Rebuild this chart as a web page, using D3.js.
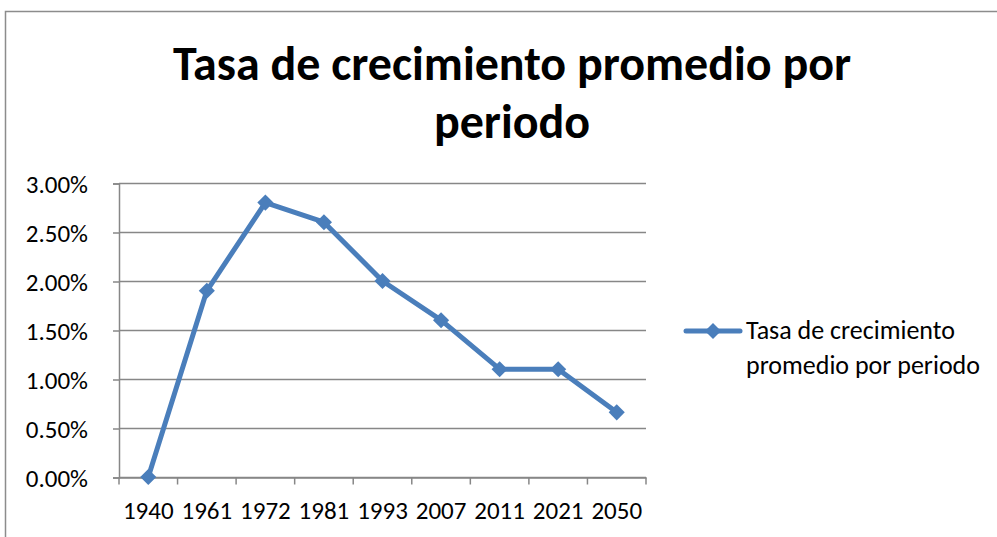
<!DOCTYPE html>
<html>
<head>
<meta charset="utf-8">
<script src="https://d3js.org/d3.v7.min.js"></script>
<style>
  body { margin: 0; background: #fff; }
  svg text { font-family: Carlito, Lato, "Open Sans", sans-serif; fill: #000; }
</style>
</head>
<body>
<svg id="chart" width="997" height="537"></svg>
<script>
// data
var years = ["1940", "1961", "1972", "1981", "1993", "2007", "2011", "2021", "2050"];
var rates = [0.0, 0.019, 0.028, 0.026, 0.020, 0.016, 0.011, 0.011, 0.0066];
var yTicks = [0, 0.005, 0.01, 0.015, 0.02, 0.025, 0.03];
var seriesName = ["Tasa de crecimiento", "promedio por periodo"];
var titleLines = ["Tasa de crecimiento promedio por", "periodo"];

var svg = d3.select("#chart");
var blue = "#4a7ebb", grid = "#878787";

// outer chart frame
svg.append("rect")
    .attr("x", 5.5).attr("y", 11.5)
    .attr("width", 1100).attr("height", 600)
    .attr("fill", "none").attr("stroke", "#8c8c8c").attr("stroke-width", 1.5);

// title
svg.append("text")
    .attr("text-anchor", "middle")
    .style("font-weight", "bold").style("font-size", "48px")
    .selectAll("tspan").data(titleLines).enter().append("tspan")
    .attr("x", 512)
    .attr("y", function (d, i) { return 80 + i * 58; })
    .text(function (d) { return d; });

var plotL = 119, plotR = 646, plotT = 183, plotB = 477;

var x = d3.scaleBand().domain(years).range([plotL, plotR]);
var y = d3.scaleLinear().domain([0, 0.03]).range([plotB, plotT]);

// gridlines
svg.append("g").selectAll("line").data(yTicks).enter().append("line")
    .attr("x1", plotL).attr("x2", plotR)
    .attr("y1", function (d) { return Math.round(y(d)) + 0.5; })
    .attr("y2", function (d) { return Math.round(y(d)) + 0.5; })
    .attr("stroke", grid).attr("stroke-width", 1.5);

// y axis
var yAxis = svg.append("g")
    .attr("transform", "translate(" + plotL + ",0.5)")
    .call(d3.axisLeft(y).tickValues(yTicks).tickFormat(d3.format(".2%")).tickSize(6).tickPadding(25));
yAxis.select(".domain").attr("stroke", grid).attr("stroke-width", 1.5);
yAxis.selectAll(".tick line").attr("stroke", grid).attr("stroke-width", 1.5);
yAxis.selectAll("text").style("font-size", "25px").attr("dy", "0.35em");

// x axis
var xAxis = svg.append("g")
    .attr("transform", "translate(0," + (plotB + 0.5) + ")")
    .call(d3.axisBottom(x).tickSize(0).tickPadding(24));
xAxis.select(".domain").attr("stroke", grid).attr("stroke-width", 1.5);
xAxis.selectAll("text").style("font-size", "25px");
xAxis.selectAll(".tick text").attr("dy", "0.71em");
var edges = years.map(function (d) { return x(d); }).concat([plotR]);
xAxis.selectAll(".edge").data(edges).enter().append("line")
    .attr("x1", function (d) { return d; }).attr("x2", function (d) { return d; })
    .attr("y1", 0).attr("y2", 7)
    .attr("stroke", grid).attr("stroke-width", 1.5);

// series line
var pts = years.map(function (d, i) { return [x(d) + x.bandwidth() / 2, y(rates[i])]; });
svg.append("path")
    .attr("d", d3.line()(pts))
    .attr("fill", "none").attr("stroke", blue).attr("stroke-width", 5)
    .attr("stroke-linejoin", "round");

var diamond = d3.symbol().type(d3.symbolSquare).size(130);
svg.append("g").selectAll("path").data(pts).enter().append("path")
    .attr("d", diamond)
    .attr("transform", function (d) { return "translate(" + d[0] + "," + d[1] + ") rotate(45)"; })
    .attr("fill", blue);

// legend
var lg = svg.append("g").attr("transform", "translate(686,331)");
lg.append("line").attr("x1", 0).attr("x2", 54).attr("y1", 0).attr("y2", 0)
    .attr("stroke", blue).attr("stroke-width", 5).attr("stroke-linecap", "round");
lg.append("path").attr("d", diamond).attr("transform", "translate(27,0) rotate(45)").attr("fill", blue);
lg.append("text").style("font-size", "26px")
    .selectAll("tspan").data(seriesName).enter().append("tspan")
    .attr("x", 60).attr("y", function (d, i) { return 8 + i * 35; })
    .text(function (d) { return d; });
</script>
</body>
</html>
